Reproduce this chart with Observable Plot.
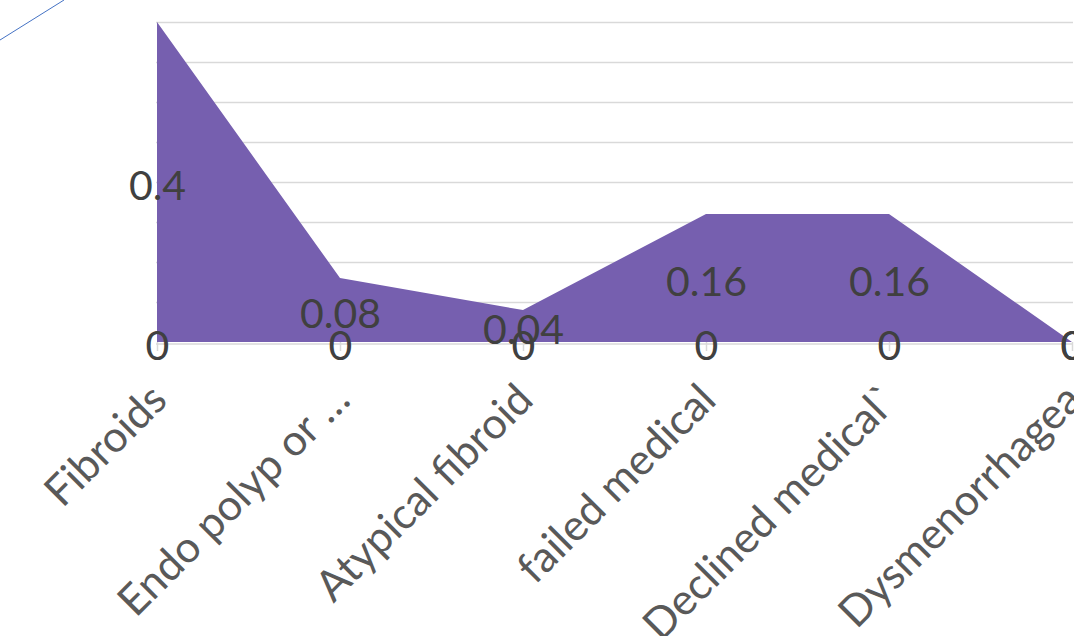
<!DOCTYPE html>
<html><head><meta charset="utf-8">
<script src="https://cdn.jsdelivr.net/npm/d3@7"></script>
<script src="https://cdn.jsdelivr.net/npm/@observablehq/plot@0.6"></script>
<style>
body{margin:0;background:#fff;overflow:hidden}
#wrap{position:relative;width:1074px;height:636px;overflow:hidden}
#deco{position:absolute;left:0;top:0;pointer-events:none}
</style>
</head><body><div id="wrap"></div>
<script>
const categories = ["Fibroids","Endo polyp or …","Atypical fibroid","failed medical","Declined medical`","Dysmenorrhagea"];
const seriesNames = ["Series A","Series B"];
const seriesA = [0,0,0,0,0,0];
const seriesB = [0.4,0.08,0.04,0.16,0.16,0];
const gridTicks = [0.05,0.1,0.15,0.2,0.25,0.3,0.35,0.4];

const data = [];
[seriesA, seriesB].forEach((vals, si) => vals.forEach((v, i) => data.push({cat: categories[i], v, s: seriesNames[si]})));

const purple = "#765FAF";
const chart = Plot.plot({
  width: 1074, height: 636,
  marginLeft: 156, marginRight: 1, marginTop: 22, marginBottom: 294,
  style: {fontFamily: "Lato, sans-serif", background: "#fff"},
  x: {type: "point", domain: categories, padding: 0, label: null},
  y: {domain: [0, 0.4], axis: null},
  marks: [
    Plot.ruleY(gridTicks, {stroke: "#d9d9d9", strokeWidth: 1.5}),
    Plot.axisX({tickSize: 9, text: null, stroke: "#d9d9d9", strokeWidth: 1.5, label: null}),
    Plot.areaY(data, {x: "cat", y: "v", z: "s", fill: purple, curve: "linear"}),
    Plot.ruleY([0], {stroke: "#d9d9d9", strokeWidth: 1.5, dy: 1.5}),
    Plot.axisX({tickSize: 0, tickRotate: -45, tickPadding: 50, dx: 2, fontSize: 43, fill: "#595959", label: null}),
    Plot.text(data, Plot.stackY({x: "cat", y: "v", z: "s", text: d => String(d.v), fontSize: 41, fill: "#404040", dy: 4}))
  ]
});
const wrap = document.getElementById("wrap");
wrap.appendChild(chart);
const ns = "http://www.w3.org/2000/svg";
const deco = document.createElementNS(ns, "svg");
deco.setAttribute("id", "deco"); deco.setAttribute("width", 80); deco.setAttribute("height", 50);
const ln = document.createElementNS(ns, "line");
ln.setAttribute("x1", 0); ln.setAttribute("y1", 40); ln.setAttribute("x2", 64); ln.setAttribute("y2", 0);
ln.setAttribute("stroke", "#4472C4"); ln.setAttribute("stroke-width", 1);
deco.appendChild(ln);
wrap.appendChild(deco);
</script>
</body></html>
